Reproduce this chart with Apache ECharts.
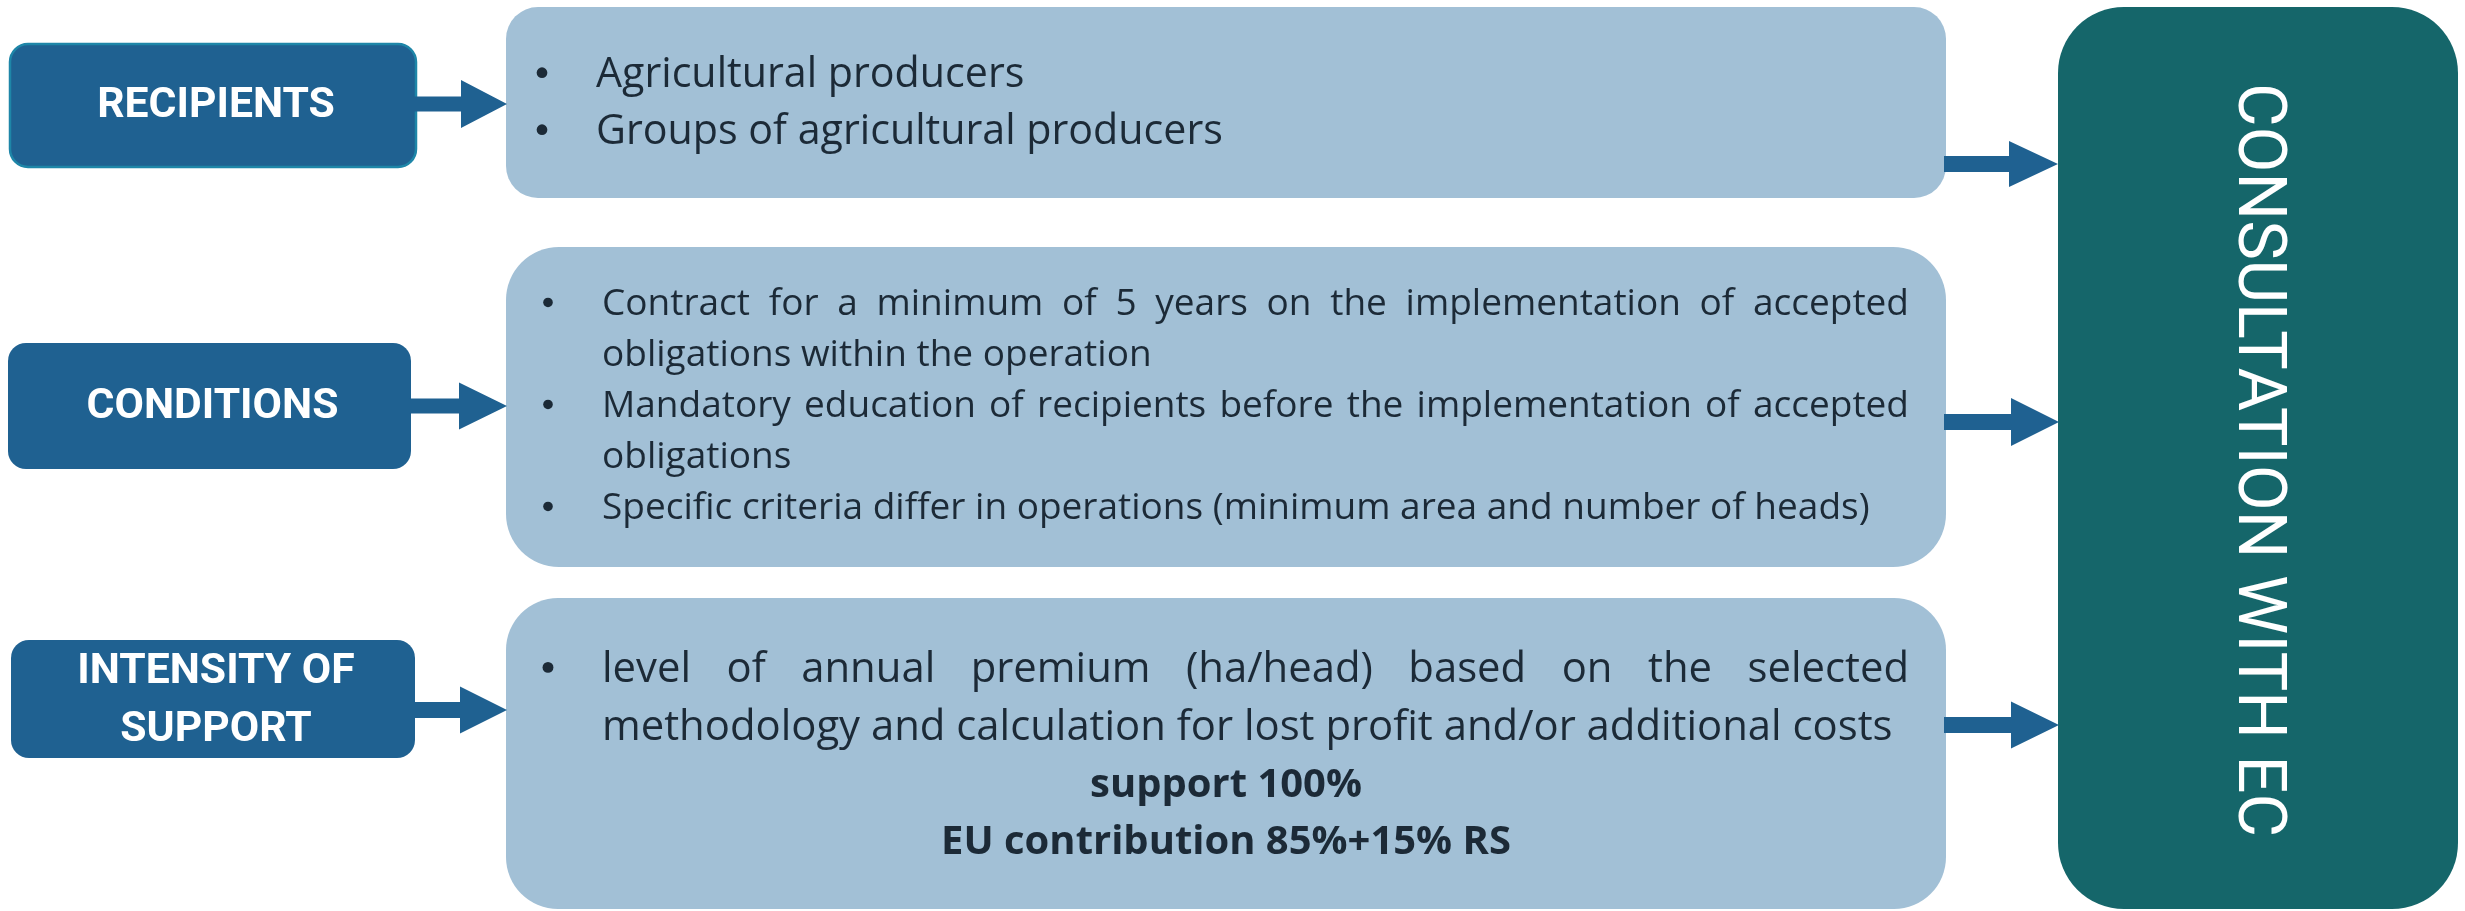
<!DOCTYPE html>
<html>
<head>
<meta charset="utf-8">
<script src="https://cdn.jsdelivr.net/npm/echarts@6/dist/echarts.min.js"></script>
<style>
  html, body { margin: 0; padding: 0; background: #fff; }
  #main { width: 2465px; height: 911px; }
</style>
</head>
<body>
<div id="main"></div>
<script>
// Block labels on the left
const blockLabels = [['RECIPIENTS'], ['CONDITIONS'], ['INTENSITY OF', 'SUPPORT']];

// Bullet items, one array of lines per bullet (line breaks as in the slide)
const recipientsItems = [
  ['Agricultural producers'],
  ['Groups of agricultural producers']
];
const conditionsItems = [
  ['Contract for a minimum of 5 years on the implementation of accepted', 'obligations within the operation'],
  ['Mandatory education of recipients before the implementation of accepted', 'obligations'],
  ['Specific criteria differ in operations (minimum area and number of heads)']
];
const intensityItems = [
  ['level of annual premium (ha/head) based on the selected', 'methodology and calculation for lost profit and/or additional costs']
];
const intensityBold = ['support 100%', 'EU contribution 85%+15% RS'];

const targetLabel = 'CONSULTATION WITH EC';

// colours
const DARK = '#1f6191';
const LIGHT = '#a2c0d6';
const TEAL = '#15666a';
const INK = '#1c2a37';
const BODY = '"Open Sans", "Liberation Sans", sans-serif';
const HEAD = 'Roboto, "Liberation Sans", sans-serif';

// text measuring (used for justification and fitting)
const ctx = document.createElement('canvas').getContext('2d');
function measure(str, size, weight, family) {
  ctx.font = weight + ' ' + size + 'px ' + family;
  return ctx.measureText(str).width;
}
function fitSize(str, width, weight, family) {
  return 100 * width / measure(str, 100, weight, family);
}

const elements = [];

function box(x, y, w, h, r, fill, stroke) {
  elements.push({
    type: 'rect', silent: true,
    shape: { x: x, y: y, width: w, height: h, r: r },
    style: { fill: fill, stroke: stroke || null, lineWidth: stroke ? 2.5 : 0 }
  });
}

function arrow(x0, xh, x1, cy, shaft, head) {
  elements.push({
    type: 'polygon', silent: true,
    shape: {
      points: [
        [x0, cy - shaft / 2], [xh, cy - shaft / 2], [xh, cy - head / 2],
        [x1, cy], [xh, cy + head / 2], [xh, cy + shaft / 2], [x0, cy + shaft / 2]
      ]
    },
    style: { fill: DARK }
  });
}

function text(str, x, y, size, weight, family, color, align, rotation) {
  elements.push({
    type: 'text', silent: true,
    x: x, y: y, rotation: rotation || 0,
    style: {
      text: str, fill: color, fontSize: size, fontWeight: weight, fontFamily: family,
      align: align || 'left', verticalAlign: 'middle'
    }
  });
}

// one line, optionally justified between x0 and x1; y is the baseline
function line(str, x0, x1, baseline, size, justify) {
  const cy = baseline - 0.36 * size;
  if (!justify) {
    text(str, x0, cy, size, 'normal', BODY, INK, 'left');
    return;
  }
  const words = str.split(' ');
  const widths = words.map(w => measure(w, size, 'normal', BODY));
  const total = widths.reduce((a, b) => a + b, 0);
  const gap = (x1 - x0 - total) / (words.length - 1);
  let x = x0;
  words.forEach((w, i) => {
    text(w, x, cy, size, 'normal', BODY, INK, 'left');
    x += widths[i] + gap;
  });
}

function bulletList(items, bulletX, x0, x1, firstBaseline, step, size) {
  let b = firstBaseline;
  items.forEach(lines => {
    elements.push({
      type: 'circle', silent: true,
      shape: { cx: bulletX, cy: b - 0.42 * size, r: 0.13 * size },
      style: { fill: INK }
    });
    lines.forEach((l, i) => {
      line(l, x0, x1, b, size, i < lines.length - 1);
      b += step;
    });
  });
  return b;
}

// ---- left label boxes
const leftBoxes = [
  { x: 10, y: 44, w: 406, h: 123, cy: 106 },
  { x: 8, y: 343, w: 403, h: 126, cy: 407 },
  { x: 11, y: 640, w: 404, h: 118, cy: 701 }
];
const labelSize = fitSize('CONDITIONS', 252, 'bold', HEAD);
leftBoxes.forEach((b, i) => {
  box(b.x, b.y, b.w, b.h, 18, DARK, i === 0 ? '#1e86a8' : null);
  const lines = blockLabels[i];
  const step = 58;
  lines.forEach((l, k) => {
    const cy = b.cy + (k - (lines.length - 1) / 2) * step;
    text(l, b.x + b.w / 2 + 3, cy, labelSize, 'bold', HEAD, '#ffffff', 'center');
  });
});

// ---- middle content boxes
box(506, 7, 1440, 191, 32, LIGHT);
box(506, 247, 1440, 320, 53, LIGHT);
box(506, 598, 1440, 311, 52, LIGHT);

// ---- teal target box
box(2058, 7, 400, 902, 66, TEAL);
const tSize = fitSize(targetLabel, 754, 'normal', HEAD);
text(targetLabel, 2256, 460, tSize, 'normal', HEAD, '#ffffff', 'center', -Math.PI / 2);

// ---- arrows
arrow(414, 461, 507, 104, 15, 48);
arrow(409, 459, 507, 406, 15, 47);
arrow(413, 460, 507, 710, 16, 47);
arrow(1944, 2009, 2058, 164, 16, 46);
arrow(1944, 2011, 2059, 422, 16, 48);
arrow(1944, 2011, 2059, 725, 16, 47);

// ---- bullet text
const s1 = fitSize(recipientsItems[1][0], 627, 'normal', BODY);
bulletList(recipientsItems, 542, 596, 1909, 90, 57, s1);

const s2 = fitSize(conditionsItems[2][0], 1268, 'normal', BODY);
bulletList(conditionsItems, 548, 602, 1909, 318, 51, s2);

const s3 = fitSize(intensityItems[0][1], 1291, 'normal', BODY);
bulletList(intensityItems, 548, 602, 1909, 685, 58, s3);

const sb = fitSize(intensityBold[1], 570, 'bold', BODY);
intensityBold.forEach((l, i) => {
  text(l, 1226, 800 + i * 57 - 0.36 * sb, sb, 'bold', BODY, INK, 'center');
});

const chart = echarts.init(document.getElementById('main'), null, { renderer: 'canvas' });
chart.setOption({
  backgroundColor: '#ffffff',
  animation: false,
  graphic: { elements: elements }
});
</script>
</body>
</html>
